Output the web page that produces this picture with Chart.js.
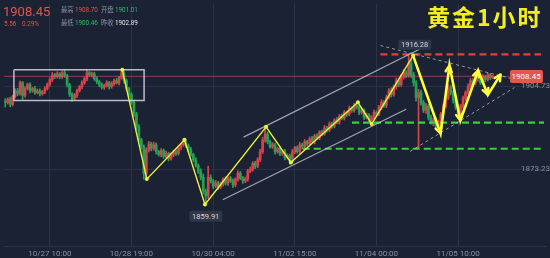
<!DOCTYPE html>
<html>
<head>
<meta charset="utf-8">
<script src="https://cdn.jsdelivr.net/npm/chart.js@4.4.1/dist/chart.umd.min.js"></script>
<style>
  body { margin: 0; background: #1b2233; }
  #wrap { position: relative; width: 550px; height: 258px; overflow: hidden; background: #1b2233;
          font-family: Roboto, "Noto Sans CJK SC", sans-serif; }
  canvas { position: absolute; left: 0; top: 0; }
  .t { position: absolute; white-space: nowrap; line-height: 1; }
  .s { font-size: 6.3px; }
  .g { color: #8d95a6; font-family: "Noto Sans CJK SC", sans-serif; }
  .tag { position: absolute; white-space: nowrap; line-height: 1; font-size: 7.5px; padding: 1.5px 3px;
         border-radius: 2px; background: #2e3749; color: #d3d7df; transform: translate(-50%, -50%); }
</style>
</head>
<body>
<div id="wrap">
  <canvas id="c" width="550" height="258"></canvas>

  <div class="t" style="left:3px;top:5px;font-size:13px;color:#e8524c;">1908.45</div>
  <div class="t s" style="left:4px;top:21px;color:#e8524c;">5.56</div>
  <div class="t s" style="left:22px;top:21px;color:#e8524c;">0.29%</div>
  <div class="t s g" style="left:61px;top:7px;">最高</div>
  <div class="t s" style="left:75px;top:7px;color:#e8524c;">1908.70</div>
  <div class="t s g" style="left:101px;top:7px;">开盘</div>
  <div class="t s" style="left:115px;top:7px;color:#2fbf62;">1901.01</div>
  <div class="t s g" style="left:61px;top:20px;">最低</div>
  <div class="t s" style="left:75px;top:20px;color:#2fbf62;">1900.46</div>
  <div class="t s g" style="left:101px;top:20px;">昨收</div>
  <div class="t s" style="left:115px;top:20px;color:#e4e6ea;">1902.89</div>

  <div class="t" style="left:427px;top:5px;font-size:23px;font-weight:700;letter-spacing:2px;color:#f4ee1d;font-family:'Noto Sans CJK SC',sans-serif;">黄金1小时</div>

  <div id="tagHigh" class="tag">1916.28</div>
  <div id="tagLow" class="tag">1859.91</div>
  <div id="tagLast" class="t" style="width:33px;height:13px;line-height:13px;text-align:center;font-size:8px;color:#fff;background:#e4564f;border-radius:2px;">1908.45</div>
</div>

<script>
// hourly closes
var closes = [
  1898.6, 1899.7, 1897.8, 1900.8, 1903.0, 1901.9, 1906.0, 1901.2, 1903.8, 1905.3,
  1903.0, 1903.8, 1902.3, 1903.0, 1901.9, 1902.6, 1903.8, 1905.3, 1907.2, 1909.0,
  1908.3, 1909.4, 1908.3, 1909.8, 1908.7, 1905.3, 1901.6, 1900.1, 1901.2, 1903.0,
  1904.5, 1906.0, 1907.5, 1909.8, 1909.0, 1909.4, 1907.5, 1906.4, 1905.3, 1904.2,
  1904.9, 1906.0, 1904.5, 1905.7, 1906.8, 1906.0, 1907.9, 1909.8, 1906.8, 1903.8,
  1901.6, 1898.6, 1894.1, 1889.3, 1884.4, 1881.8, 1871.7, 1880.6, 1882.9, 1881.1,
  1882.5, 1879.9, 1878.8, 1880.3, 1878.1, 1879.2, 1877.3, 1878.8, 1879.9, 1879.2,
  1881.4, 1882.5, 1883.7, 1882.2, 1880.7, 1878.8, 1876.9, 1874.7, 1872.5, 1870.2,
  1865.0, 1863.2, 1870.2, 1868.8, 1866.9, 1868.0, 1866.5, 1867.6, 1869.5, 1868.0,
  1869.9, 1868.8, 1867.3, 1869.5, 1871.7, 1869.9, 1868.8, 1869.5, 1872.5, 1873.2,
  1875.5, 1874.4, 1876.9, 1879.9, 1884.4, 1886.6, 1883.7, 1881.8, 1882.5, 1879.9,
  1881.1, 1879.2, 1879.9, 1877.7, 1878.4, 1876.2, 1879.9, 1881.4, 1879.9, 1882.5,
  1881.8, 1883.7, 1882.9, 1884.8, 1883.7, 1885.9, 1885.2, 1887.4, 1886.6, 1888.9,
  1888.1, 1890.4, 1889.6, 1891.9, 1891.1, 1893.4, 1892.6, 1894.8, 1894.1, 1896.3,
  1895.6, 1897.4, 1896.7, 1894.8, 1895.6, 1892.9, 1893.7, 1891.9, 1892.9, 1894.8,
  1894.1, 1896.7, 1898.6, 1897.4, 1900.4, 1903.0, 1901.6, 1904.5, 1906.8, 1905.3,
  1908.3, 1909.8, 1908.7, 1913.5, 1909.0, 1906.0, 1900.4, 1902.3, 1898.6, 1895.6,
  1897.1, 1892.9, 1891.1, 1891.9, 1889.6, 1891.1, 1894.1, 1897.1, 1900.4, 1904.2,
  1902.3, 1899.3, 1896.7, 1894.8, 1897.1, 1900.1, 1902.3, 1904.5, 1906.8, 1906.0,
  1909.0, 1907.5, 1906.0, 1908.3, 1907.2, 1909.0, 1907.9, 1908.45
];
var firstOpen = 1899.0;
// wick length above / below the body, dollars
var wickUp = [
  1.0,0.6,0.8,0.5,0.7,0.9,0.6,0.5,0.8,0.6, 0.7,0.5,0.9,0.6,0.7,0.5,0.8,0.6,0.7,0.9,
  0.6,0.8,0.5,0.7,0.9,0.6,0.5,0.7,0.8,0.6, 0.5,0.7,0.6,0.9,0.5,0.7,0.6,0.8,0.5,0.7,
  0.6,0.8,0.5,0.7,0.6,0.9,0.5,0.8,0.6,0.7, 0.5,0.6,0.8,0.7,0.9,0.6,0.7,0.8,0.9,0.6,
  1.0,0.7,0.5,0.8,0.6,0.9,0.5,0.7,0.6,0.8, 0.7,0.5,0.7,0.9,0.6,0.8,0.5,0.7,0.6,0.9,
  1.2,0.8,4.2,0.9,0.6,1.0,0.7,0.8,0.5,0.9, 0.6,0.7,0.8,0.5,0.9,0.7,0.6,0.8,0.7,0.9,
  0.6,0.8,0.7,0.9,1.0,2.7,0.8,0.6,0.9,0.7, 0.5,0.8,0.6,0.9,0.7,0.6,0.8,0.5,0.7,0.9,
  0.6,0.8,0.5,0.7,0.9,0.6,0.8,0.5,0.7,0.9, 0.6,0.8,0.7,0.5,0.9,0.6,0.8,0.7,0.5,0.9,
  0.6,0.8,1.2,0.7,0.9,0.5,0.8,0.6,0.7,0.9, 0.6,0.8,1.0,0.7,0.9,0.8,1.1,0.7,1.0,0.8,
  0.9,1.2,0.8,2.78,1.4,1.0,0.8,1.2,0.9,0.7, 1.1,0.8,0.9,0.6,1.0,0.8,0.7,0.9,1.0,1.1,
  0.9,0.8,0.7,1.0,0.8,0.9,0.7,1.1,0.9,0.8, 1.0,0.7,0.9,0.8,0.6,0.7,0.5,0.3
];
var wickDn = [
  1.8,0.7,0.9,0.6,0.5,0.8,0.6,1.5,0.7,0.5, 0.8,0.6,0.7,0.5,0.9,0.6,0.7,0.5,0.6,0.8,
  0.7,0.5,0.8,0.6,0.7,0.9,0.8,1.2,0.6,0.7, 0.5,0.8,0.6,0.7,0.5,0.9,0.6,0.7,0.8,0.6,
  0.7,0.5,0.9,0.6,0.7,0.5,0.8,0.6,0.9,0.7, 1.0,0.8,0.9,1.1,0.8,1.0,2.2,1.5,0.8,0.9,
  0.7,0.9,0.6,0.8,0.7,0.5,0.9,0.6,0.8,0.7, 0.6,0.8,0.5,0.7,0.9,0.6,0.8,0.7,0.9,1.0,
  1.1,3.29,1.0,0.8,0.9,0.7,1.0,0.6,0.8,0.7, 0.9,0.6,1.0,0.7,0.8,0.6,0.9,0.7,0.8,0.6,
  0.7,0.9,0.6,0.8,0.7,0.9,0.8,0.6,0.7,0.9, 0.6,0.8,0.7,0.9,0.6,1.0,0.7,0.8,0.6,0.7,
  0.9,0.6,0.8,0.7,0.5,0.9,0.6,0.8,0.7,0.5, 0.8,0.6,0.9,0.7,0.6,0.8,0.5,0.7,0.9,0.6,
  0.8,0.7,0.6,0.9,0.7,0.8,0.6,0.9,1.8,0.7, 0.8,0.6,0.9,0.7,0.8,0.6,1.0,0.7,0.9,0.8,
  0.7,0.9,0.8,0.6,1.0,1.2,1.4,19.0,1.1,0.9, 1.2,1.0,0.8,1.3,0.9,1.0,0.8,0.9,0.7,0.8,
  0.9,1.0,0.8,1.2,0.9,0.7,0.8,0.6,0.9,0.7, 0.8,0.9,0.7,0.6,0.8,0.5,0.7,0.4
];

var slotCount = 219;               // hourly slots across the full width
var xTickIdx = [18, 51, 84, 117, 150, 183];
var xTickLabels = ['10/27 10:00', '10/28 19:00', '10/30 04:00', '11/02 15:00', '11/04 00:00', '11/05 10:00'];
var yTicks = [1873.23, 1904.73];
var yMin = 1844.16, yMax = 1935.85;
var highVal = 1916.28, lowVal = 1859.91;

// drawings, in (slot, price)
var zigX = [47.3, 57.2, 72.4, 80.7, 105.4, 115.4, 142.5, 148.1, 164.8];
var zigY = [1910.9, 1869.5, 1884.4, 1859.9, 1889.3, 1875.8, 1898.6, 1890.4, 1916.3];
var arrowX = [164.8, 175.9, 179.5, 183.9, 191.1, 195.0, 200.2];
var arrowY = [1916.3, 1886.8, 1912.6, 1891.7, 1910.7, 1901.4, 1909.2];
var chanUpX = [96.3, 172], chanUpY = [1885.4, 1920.9];
var chanLoX = [87.9, 162], chanLoY = [1861.7, 1896.0];
var triUpX = [151.6, 205.4], triUpY = [1920.1, 1907.4];
var triLoX = [163.6, 205.8], triLoY = [1880.0, 1904.2];
var resistX = [151.6, 216.5], resistY = 1916.8;
var supUpX = [140.1, 217.7], supUpY = 1890.9;
var supLoX = [120.2, 217.7], supLoY = 1881.0;
var boxX = [3.5, 56.1], boxY = [1899.3, 1910.9];
var lastLineEnd = 203.8;

var upColor = '#d9434c', downColor = '#24a358';

var opens = closes.map(function(c, i) { return i === 0 ? firstOpen : closes[i - 1]; });
var bodies = closes.map(function(c, i) { return [opens[i], c]; });
var wicks = closes.map(function(c, i) {
  return [Math.min(opens[i], c) - wickDn[i], Math.max(opens[i], c) + wickUp[i]];
});
var colors = closes.map(function(c, i) { return c >= opens[i] ? upColor : downColor; });
var slots = [];
for (var s = 0; s < slotCount; s++) slots.push(String(s));

function pts(xs, ys) {
  return xs.map(function(x, i) { return { x: x, y: Array.isArray(ys) ? ys[i] : ys }; });
}
function line(data, style) {
  var d = { type: 'line', xAxisID: 'xl', yAxisID: 'y', data: data, pointRadius: 0, borderWidth: 1,
            fill: false, tension: 0, order: 1 };
  for (var k in style) d[k] = style[k];
  return d;
}

var overlay = {
  id: 'overlay',
  afterDatasetsDraw: function(chart) {
    var ctx = chart.ctx, xl = chart.scales.xl, y = chart.scales.y;
    ctx.save();
    ctx.strokeStyle = '#ffff3c';
    ctx.lineWidth = 2.4;
    ctx.lineCap = 'round';
    ctx.lineJoin = 'round';
    for (var k = 1; k < arrowX.length; k++) {
      var x0 = xl.getPixelForValue(arrowX[k - 1]), y0 = y.getPixelForValue(arrowY[k - 1]);
      var x1 = xl.getPixelForValue(arrowX[k]), y1 = y.getPixelForValue(arrowY[k]);
      var a = Math.atan2(y1 - y0, x1 - x0), L = 7;
      ctx.beginPath();
      ctx.moveTo(x1 - L * Math.cos(a - 0.45), y1 - L * Math.sin(a - 0.45));
      ctx.lineTo(x1, y1);
      ctx.lineTo(x1 - L * Math.cos(a + 0.45), y1 - L * Math.sin(a + 0.45));
      ctx.stroke();
    }
    ctx.restore();
  },
  afterDraw: function(chart) {
    var x = chart.scales.x, y = chart.scales.y, xl = chart.scales.xl;
    var hi = document.getElementById('tagHigh');
    hi.style.left = (x.getPixelForValue(163) + 6) + 'px';
    hi.style.top = (y.getPixelForValue(highVal) - 11) + 'px';
    var lo = document.getElementById('tagLow');
    lo.style.left = x.getPixelForValue(81) + 'px';
    lo.style.top = (y.getPixelForValue(lowVal) + 12) + 'px';
    var last = document.getElementById('tagLast');
    last.style.left = xl.getPixelForValue(lastLineEnd) + 'px';
    last.style.top = (y.getPixelForValue(closes[closes.length - 1]) - 6.5) + 'px';
  }
};

new Chart(document.getElementById('c'), {
  type: 'bar',
  data: {
    labels: slots,
    datasets: [
      { type: 'bar', data: bodies, backgroundColor: colors, barThickness: 2, grouped: false,
        minBarLength: 1, order: 5, xAxisID: 'x', yAxisID: 'y' },
      { type: 'bar', data: wicks, backgroundColor: colors, barThickness: 1, grouped: false,
        order: 6, xAxisID: 'x', yAxisID: 'y' },
      line(pts([-0.5, lastLineEnd], closes[closes.length - 1]), { borderColor: 'rgba(214,84,104,0.6)', order: 4 }),
      line(pts([boxX[0], boxX[1], boxX[1], boxX[0], boxX[0]], [boxY[1], boxY[1], boxY[0], boxY[0], boxY[1]]),
           { borderColor: 'rgba(215,215,222,0.85)', borderWidth: 1.5 }),
      line(pts(chanUpX, chanUpY), { borderColor: 'rgba(205,208,216,0.75)', borderWidth: 1.2 }),
      line(pts(chanLoX, chanLoY), { borderColor: 'rgba(205,208,216,0.75)', borderWidth: 1.2 }),
      line(pts(triUpX, triUpY), { borderColor: 'rgba(200,202,212,0.7)', borderDash: [3, 3] }),
      line(pts(triLoX, triLoY), { borderColor: 'rgba(200,202,212,0.7)', borderDash: [3, 3] }),
      line(pts(resistX, resistY), { borderColor: '#e53e3e', borderWidth: 2.2, borderDash: [7, 4] }),
      line(pts(supUpX, supUpY), { borderColor: '#39d13a', borderWidth: 2.2, borderDash: [7, 4] }),
      line(pts(supLoX, supLoY), { borderColor: '#39d13a', borderWidth: 2.2, borderDash: [7, 4] }),
      line(pts(zigX, zigY), { borderColor: '#eef03a', borderWidth: 1.4, pointRadius: 2,
           pointBackgroundColor: '#eef03a', pointBorderWidth: 0, order: 0 }),
      line(pts(arrowX, arrowY), { borderColor: '#ffff3c', borderWidth: 2.6, order: 0 })
    ]
  },
  options: {
    responsive: false,
    animation: false,
    devicePixelRatio: 1,
    events: [],
    layout: { padding: 0 },
    plugins: { legend: { display: false }, tooltip: { enabled: false } },
    scales: {
      x: {
        type: 'category',
        position: 'bottom',
        offset: true,
        grid: {
          offset: false,
          drawTicks: false,
          color: function(c) { return xTickIdx.indexOf(c.index) >= 0 ? '#2b3447' : 'rgba(0,0,0,0)'; }
        },
        border: { display: true, color: '#2b3447' },
        ticks: {
          autoSkip: false, maxRotation: 0, minRotation: 0, padding: 3,
          color: '#8a92a3', font: { size: 8, family: 'Roboto' },
          callback: function(v, i) { var k = xTickIdx.indexOf(i); return k >= 0 ? xTickLabels[k] : ''; }
        },
        afterFit: function(s) { s.height = 12; s.paddingLeft = 0; s.paddingRight = 0; }
      },
      xl: {
        type: 'linear', display: false, offset: false, grid: { offset: false },
        min: -0.5, max: slotCount - 0.5
      },
      y: {
        type: 'linear',
        position: 'right',
        min: yMin, max: yMax,
        afterBuildTicks: function(s) { s.ticks = yTicks.map(function(v) { return { value: v }; }); },
        grid: { color: '#283145', drawTicks: false },
        border: { display: false },
        ticks: {
          mirror: true, padding: 4, color: '#8a92a3', font: { size: 8, family: 'Roboto' },
          callback: function(v) { return v.toFixed(2); }
        },
        afterFit: function(s) { s.width = 0; s.paddingTop = 0; s.paddingBottom = 0; }
      }
    }
  },
  plugins: [overlay]
});
</script>
</body>
</html>
